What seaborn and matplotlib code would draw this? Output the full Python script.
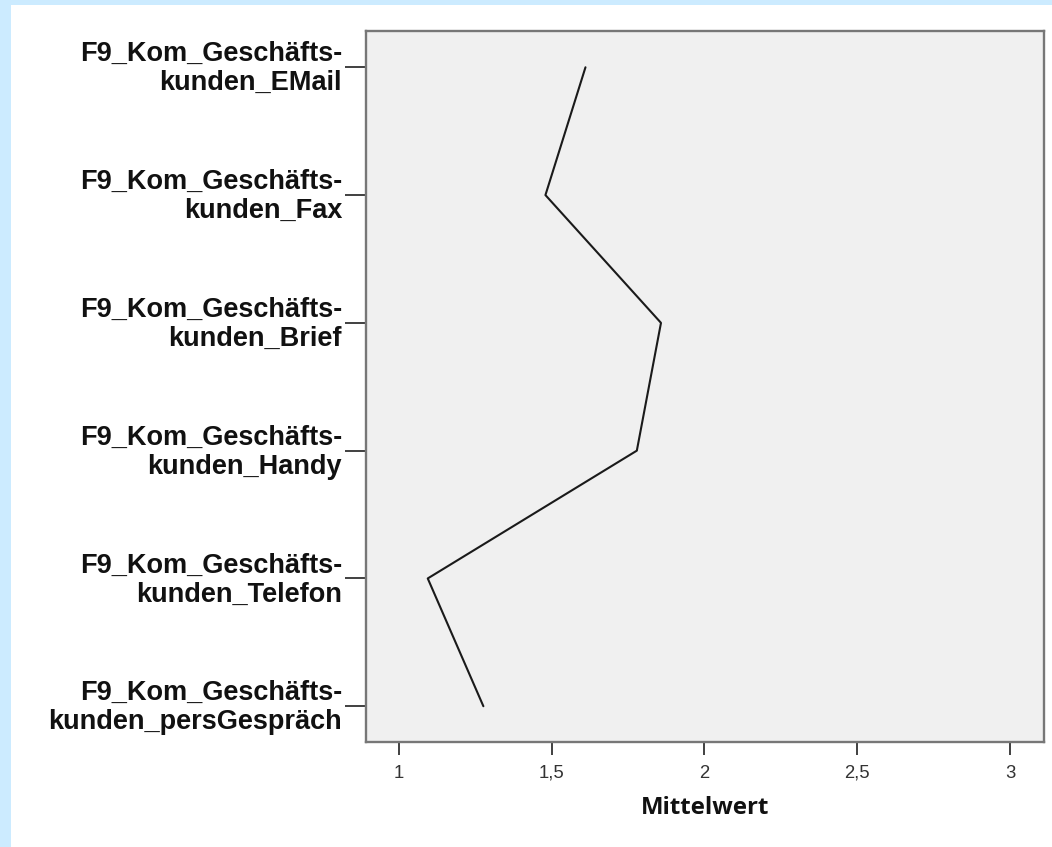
import pandas as pd
import seaborn as sns
import matplotlib.pyplot as plt
from matplotlib.ticker import FuncFormatter
from matplotlib.patches import Rectangle
from matplotlib.transforms import ScaledTranslation

# Mean values per communication channel
kanaele = ['EMail', 'Fax', 'Brief', 'Handy', 'Telefon', 'persGespräch']
mittelwerte = [1.611, 1.480, 1.858, 1.779, 1.095, 1.277]
x_ticks = [1, 1.5, 2, 2.5, 3]

labels = ['F9_Kom_Geschäfts-\nkunden_' + k for k in kanaele]
df = pd.DataFrame({'variable': labels, 'Mittelwert': mittelwerte})

sns.set_style('white')
plt.rcParams['font.family'] = ['Liberation Sans', 'DejaVu Sans']

fig = plt.figure(figsize=(10.52, 8.47), dpi=100)
fig.patch.set_facecolor('#CCEBFF')
# white sheet inside the light blue frame (blue only on top and left)
fig.patches.append(Rectangle((11 / 1052, 0), 1, 1 - 5 / 847, transform=fig.transFigure,
                             facecolor='white', edgecolor='none', zorder=-10))

ax = fig.add_axes([366 / 1052, 1 - 742 / 847, (1044 - 366) / 1052, (742 - 31) / 847])
ax.set_facecolor('#F0F0F0')

sns.lineplot(data=df, x='Mittelwert', y='variable', orient='y', sort=False,
             estimator=None, color='#1a1a1a', linewidth=1.5, ax=ax)

ax.set_xlim(0.893, 3.111)
ax.set_ylim(5.28, -0.284)
ax.set_xticks(x_ticks)
ax.xaxis.set_major_formatter(FuncFormatter(lambda v, p: ('%g' % v).replace('.', ',')))

for s in ax.spines.values():
    s.set_color('#777777')
    s.set_linewidth(1.7)

ax.tick_params(axis='y', length=15, width=1.4, color='#404040', pad=2.2,
               labelsize=19.5, labelcolor='#111111', left=True)
ax.tick_params(axis='x', length=9.4, width=1.4, color='#404040', pad=7,
               labelsize=13.3, labelcolor='#333333', bottom=True)
# labels sit a few pixels higher than the tick in the original
shift = ScaledTranslation(0, 3 / 100, fig.dpi_scale_trans)
for t in ax.get_yticklabels():
    t.set_fontweight('bold')
    t.set_linespacing(1.15)
    t.set_transform(t.get_transform() + shift)

ax.set_ylabel('')
ax.set_xlabel('Mittelwert', fontsize=17.3, fontweight='bold', family='Open Sans',
              color='#111111', labelpad=10)

fig.savefig('out.png', dpi=100, facecolor=fig.get_facecolor())
